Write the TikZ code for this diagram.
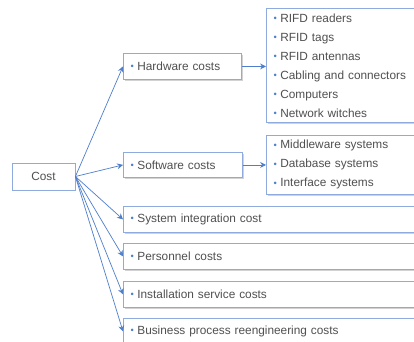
\documentclass[tikz,border=0pt]{standalone}
\usepackage{fontspec}
\setmainfont{Liberation Sans}
\usetikzlibrary{arrows.meta,shadows}

\definecolor{boxblue}{HTML}{8FAADC}
\definecolor{arrowblue}{HTML}{4F7FCC}
\definecolor{textgray}{HTML}{505050}
\newcommand{\bul}{\raisebox{0.15ex}{\color{arrowblue}\footnotesize\textbullet}\hspace{0.1cm}}

\tikzset{
  costbox/.style={draw=boxblue, fill=white, line width=0.7pt,
    drop shadow={shadow xshift=1pt, shadow yshift=-1pt, opacity=0.35},
    text=textgray, font=\fontsize{10.1}{16.2}\selectfont},
  itembox/.style={costbox, anchor=north west, align=left, inner xsep=0.22cm},
  link/.style={draw=arrowblue, line width=0.6pt, -{Stealth[length=5pt,width=5pt]}},
}

\begin{document}
\begin{tikzpicture}[x=0.03cm, y=-0.03cm]
    \path[use as bounding box, fill=white] (0,0) rectangle (414,342);
    \clip (0,0) rectangle (414,342);

    % root
    \node[costbox, minimum width=1.89cm, minimum height=0.81cm] (cost) at (43.5,176.5) {Cost};

    % cost categories
    \node[itembox, text width=3.1cm, minimum height=0.78cm] (hardware) at (123,53) {\bul Hardware costs};
    \node[itembox, text width=3.13cm, minimum height=0.75cm] (software) at (123,152) {\bul Software costs};
    \node[itembox, text width=9cm, minimum height=0.78cm] (integration) at (123,206) {\bul System integration cost};
    \node[itembox, text width=9cm, minimum height=0.78cm] (personnel) at (123,243) {\bul Personnel costs};
    \node[itembox, text width=9cm, minimum height=0.78cm] (installation) at (123,281) {\bul Installation service costs};
    \node[itembox, text width=9cm, minimum height=0.78cm] (reengineering) at (123,318) {\bul Business process reengineering costs};

    % detail lists
    \node[itembox, text width=4.8cm, minimum height=3.42cm] (hwlist) at (266,8)
      {\bul RIFD readers\\ \bul RFID tags\\ \bul RFID antennas\\
       \bul Cabling and connectors\\ \bul Computers\\ \bul Network witches};
    \node[itembox, text width=4.8cm, minimum height=1.77cm] (swlist) at (266,135)
      {\bul Middleware systems\\ \bul Database systems\\ \bul Interface systems};

    % connectors
    \foreach \target in {hardware,software,integration,personnel,installation,reengineering}
      \draw[link] (cost.east) -- (\target.west);
    \draw[link] (hardware.east) -- (hardware.east -| hwlist.west);
    \draw[link] (software.east) -- (software.east -| swlist.west);
\end{tikzpicture}
\end{document}
